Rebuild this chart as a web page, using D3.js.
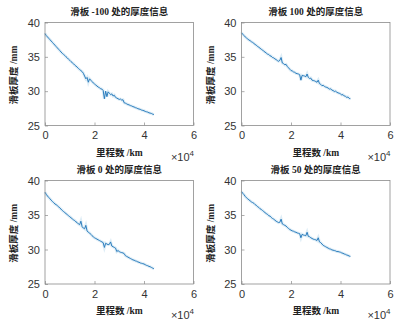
<!DOCTYPE html>
<html><head><meta charset="utf-8">
<script src="https://cdn.jsdelivr.net/npm/d3@7"></script>
<style>html,body{margin:0;padding:0;background:#fff}</style>
</head><body>
<svg id="chart" width="402" height="329"></svg>
<script>
const titles = ["滑板 -100 处的厚度信息", "滑板 100 处的厚度信息", "滑板 0 处的厚度信息", "滑板 50 处的厚度信息"];
const xLabel = "里程数 /km";
const yLabel = "滑板厚度 /mm";
const xTicks = [0, 20000, 40000, 60000];
const yTicks = [25, 30, 35, 40];
const mileage = [0,500,1000,1500,2000,2500,3000,3500,4000,4500,5000,5500,6000,6500,7000,7500,8000,8500,9000,9500,
10000,10500,11000,11500,12000,12500,13000,13500,14000,14500,15000,15500,16000,16500,17000,17500,18000,18500,19000,19500,
20000,20500,21000,21500,22000,22500,23000,23500,24000,24500,25000,25500,26000,26500,27000,27500,28000,28500,29000,29500,
30000,30500,31000,31500,32000,32500,33000,33500,34000,34500,35000,35500,36000,36500,37000,37500,38000,38500,39000,39500,
40000,40500,41000,41500,42000,42500,43000,43500,44000];
const thickM100 = [38.4,38.1,37.9,37.7,37.5,37.3,37.1,36.9,36.7,36.5,36.3,36.1,35.9,35.7,35.5,35.35,35.2,35.0,34.85,34.65,
34.5,34.3,34.15,34.0,33.8,33.65,33.5,33.3,33.15,33.0,32.85,32.6,32.2,31.8,32.0,31.3,31.8,31.6,31.4,31.2,
31.05,30.9,30.75,30.6,30.5,30.35,30.3,30.1,28.9,30.0,29.2,29.9,29.7,29.5,29.6,29.3,29.4,29.1,29.0,28.9,
28.8,28.85,28.7,28.75,28.3,28.25,28.15,28.05,28.0,27.9,27.85,27.75,27.7,27.6,27.55,27.45,27.4,27.35,27.25,27.2,
27.15,27.05,27.0,26.95,26.85,26.8,26.75,26.65,26.6];
const thick100 = [38.5,38.3,38.1,37.9,37.75,37.6,37.45,37.35,37.2,37.1,36.95,36.8,36.7,36.5,36.4,36.25,36.1,36.0,35.8,35.7,
35.55,35.4,35.35,35.15,35.1,34.9,34.85,34.7,34.6,34.45,34.35,34.5,34.9,34.1,34.0,33.85,33.9,33.6,33.4,33.2,
33.0,32.95,32.8,32.75,32.6,32.55,32.5,32.4,31.6,32.3,32.25,32.2,32.1,32.5,32.0,31.85,31.9,31.6,31.55,31.5,
31.4,31.3,31.6,31.1,31.0,30.8,30.85,30.7,30.6,30.55,30.45,30.3,30.35,30.15,30.1,29.95,30.0,29.85,29.75,29.7,
29.6,29.45,29.5,29.3,29.25,29.1,29.15,28.95,28.9];
const thick0 = [38.3,38.0,37.75,37.55,37.35,37.15,36.95,36.8,36.6,36.5,36.35,36.2,36.0,35.85,35.65,35.5,35.35,35.2,35.05,34.9,
34.75,34.6,34.45,34.3,34.2,34.0,33.9,33.7,33.6,34.1,33.3,33.1,33.0,33.5,32.7,32.5,32.4,32.2,32.0,31.85,
31.7,31.6,31.5,31.4,31.3,31.2,31.1,31.0,30.3,30.9,30.8,30.7,30.75,31.1,30.5,30.4,30.3,30.2,29.7,29.85,
29.7,29.6,29.55,29.5,29.4,29.1,29.0,28.9,28.8,28.7,28.6,28.5,28.45,28.35,28.3,28.2,28.15,28.05,28.0,27.95,
27.9,27.8,27.7,27.65,27.55,27.5,27.4,27.3,27.2];
const thick50 = [38.4,38.15,37.95,37.7,37.5,37.35,37.2,37.05,36.9,36.8,36.7,36.5,36.4,36.2,36.1,35.9,35.8,35.65,35.5,35.35,
35.2,35.1,34.9,34.85,34.65,34.5,34.4,34.25,34.1,34.0,33.9,33.95,34.4,33.7,33.6,33.5,33.4,33.2,33.05,32.9,
32.8,32.7,32.65,32.55,32.5,32.4,32.35,32.3,31.7,32.2,32.1,32.05,32.0,32.5,31.9,31.85,31.7,31.6,31.5,31.45,
31.4,31.3,31.7,31.1,31.0,30.8,30.6,30.5,30.4,30.3,30.2,30.1,30.05,29.95,29.9,29.85,29.8,29.7,29.7,29.65,
29.6,29.5,29.45,29.35,29.3,29.2,29.15,29.05,29.0];
const seriesList = [thickM100, thick100, thick0, thick50];

const svg = d3.select("#chart");
const panels = [
  {x0: 45, x1: 193.5, y0: 22.5, y1: 125.5},
  {x0: 241.5, x1: 390, y0: 22.5, y1: 125.5},
  {x0: 45, x1: 193.5, y0: 180.5, y1: 284},
  {x0: 241.5, x1: 390, y0: 180.5, y1: 284}
];
const tickFont = "'Liberation Sans', Arial, sans-serif";
const cjkFont = "'Liberation Serif', 'Noto Sans CJK SC', serif";

panels.forEach((p, i) => {
  const x = d3.scaleLinear().domain([0, 60000]).range([p.x0, p.x1]);
  const y = d3.scaleLinear().domain([25, 40]).range([p.y1, p.y0]);
  const g = svg.append("g");
  const data = mileage.map((m, k) => [m, seriesList[i][k]]);
  const line = d3.line().x(d => x(d[0])).y(d => y(d[1]));

  g.append("path").datum(data).attr("d", line).attr("fill", "none")
    .attr("stroke", "#0072BD").attr("stroke-opacity", 0.13).attr("stroke-width", 3);
  g.append("path").datum(data).attr("d", line).attr("fill", "none")
    .attr("stroke", "#2a7cbd").attr("stroke-width", 1).attr("stroke-linejoin", "round");

  const xa = g.append("g").attr("transform", `translate(0,${p.y1})`)
    .call(d3.axisBottom(x).tickValues(xTicks).tickFormat(d => d / 10000).tickSizeInner(-3).tickSizeOuter(0).tickPadding(6));
  const ya = g.append("g").attr("transform", `translate(${p.x0},0)`)
    .call(d3.axisLeft(y).tickValues(yTicks).tickSizeInner(-3).tickSizeOuter(0).tickPadding(5));
  [xa, ya].forEach(a => {
    a.select(".domain").remove();
    a.selectAll("line").attr("stroke", "#8a8a8a").attr("stroke-width", 0.7);
    a.selectAll("text").attr("font-family", tickFont).attr("font-size", 11).attr("fill", "#333");
  });
  g.append("rect").attr("x", p.x0).attr("y", p.y0).attr("width", p.x1 - p.x0).attr("height", p.y1 - p.y0)
    .attr("fill", "none").attr("stroke", "#8a8a8a").attr("stroke-width", 0.8);

  g.append("text").attr("x", (p.x0 + p.x1) / 2).attr("y", p.y0 - 10).attr("text-anchor", "middle")
    .attr("dominant-baseline", "middle").attr("font-family", cjkFont).attr("font-size", 9.5)
    .attr("font-weight", "bold").attr("fill", "#222").text(titles[i]);
  g.append("text").attr("x", (p.x0 + p.x1) / 2).attr("y", p.y1 + 28).attr("text-anchor", "middle")
    .attr("dominant-baseline", "middle").attr("font-family", cjkFont).attr("font-size", 9.5)
    .attr("font-weight", "bold").attr("fill", "#222").text(xLabel);
  g.append("text").attr("transform", `translate(${p.x0 - 30},${(p.y0 + p.y1) / 2 + 1}) rotate(-90)`)
    .attr("text-anchor", "middle").attr("dominant-baseline", "middle").attr("font-family", cjkFont)
    .attr("font-size", 9.5).attr("font-weight", "bold").attr("fill", "#222").text(yLabel);
  const ex = g.append("text").attr("x", p.x1 + 0.5).attr("y", p.y1 + 35).attr("text-anchor", "end")
    .attr("font-family", tickFont).attr("font-size", 11).attr("fill", "#333");
  ex.append("tspan").text("×10");
  ex.append("tspan").attr("font-size", 8).attr("dy", -5).text("4");
});
</script>
</body></html>
